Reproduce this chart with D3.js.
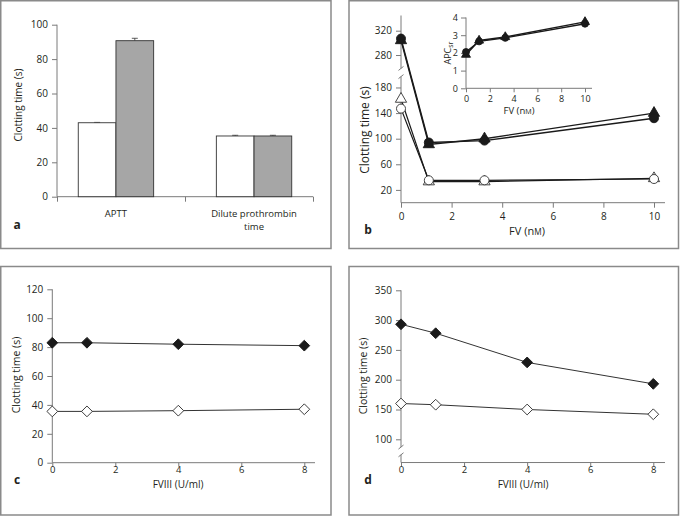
<!DOCTYPE html>
<html>
<head>
<meta charset="utf-8">
<script src="https://cdn.jsdelivr.net/npm/d3@7"></script>
<style>
    body { margin: 0; background: #fff; }
    text { font-family: "Open Sans", sans-serif; fill: #231f20; }
</style>
</head>
<body>
<svg id="figure" width="680" height="516"></svg>
<script>
// ---- panel a: bar chart ----
const barCategories = ['APTT', 'Dilute prothrombin time'];
const barSeries = ['open', 'filled'];
const barOpen = [43, 35.3];
const barFilled = [90.7, 35.3];
const barOpenErr = [0.2, 0.4];
const barFilledErr = [1.4, 0.4];
const barTicks = [0, 20, 40, 60, 80, 100];

// ---- panel b: FV titration (main + inset) ----
const fvX = [0, 1.1, 3.3, 10];
const fvFilledCircle = [307, 94, 97, 132];
const fvFilledTriangle = [304, 91, 100, 140];
const fvOpenCircle = [147, 35, 35, 37];
const fvOpenTriangle = [162, 33, 33, 38];
const fvYTicks = [20, 60, 100, 140, 180, 280, 320];
const fvXTicks = [0, 2, 4, 6, 8, 10];

const insetCircle = [2.05, 2.65, 2.85, 3.65];
const insetTriangle = [1.9, 2.7, 2.9, 3.75];
const insetYTicks = [0, 1, 2, 3, 4];
const insetXTicks = [0, 2, 4, 6, 8, 10];

// ---- panels c and d: FVIII titration ----
const fviiiX = [0, 1.1, 4, 8];
const cFilled = [83, 83, 82, 81];
const cOpen = [35.5, 35.5, 36, 37];
const cYTicks = [0, 20, 40, 60, 80, 100, 120];
const dFilled = [293, 278, 229, 193];
const dOpen = [160, 158, 150, 142];
const dYTicks = [100, 150, 200, 250, 300, 350];
const fviiiXTicks = [0, 2, 4, 6, 8];

const AXIS = '#7a7a7a';
const FRAME = '#8a8a8a';
const svg = d3.select('#figure');

/**
 * panel border
 */
function frame(x0, y0, x1, y1) {
    svg.append('rect')
        .attr('x', x0).attr('y', y0)
        .attr('width', x1 - x0).attr('height', y1 - y0)
        .attr('fill', 'none')
        .attr('stroke', FRAME)
        .attr('stroke-width', 1.5);
}

/**
 * left axis with ticks only; the axis line is drawn by hand so it can have a break
 */
function leftAxis(scale, ticks, x, segments, fontSize = 10, pad = 4) {
    const g = svg.append('g')
        .attr('transform', `translate(${x},0)`)
        .call(d3.axisLeft(scale).tickValues(ticks).tickSize(5).tickPadding(pad)
            .tickFormat(d3.format('d')));
    g.select('.domain').remove();
    g.selectAll('line').attr('stroke', AXIS);
    g.selectAll('text')
        .attr('font-family', '"Open Sans", sans-serif')
        .attr('font-size', fontSize)
        .attr('fill', '#231f20');
    segments.forEach(([a, b]) => {
        svg.append('line')
            .attr('x1', x).attr('x2', x)
            .attr('y1', a).attr('y2', b)
            .attr('stroke', AXIS);
    });
    return g;
}

/**
 * bottom axis, line from x0 to x1
 */
function bottomAxis(scale, ticks, y, x0, x1, opts = {}) {
    const size = opts.size || 10;
    const g = svg.append('g')
        .attr('transform', `translate(0,${y})`)
        .call(d3.axisBottom(scale).tickValues(ticks)
            .tickSize(opts.tick || 5)
            .tickPadding(opts.pad !== undefined ? opts.pad : 3)
            .tickFormat(opts.noLabels ? () => '' : d3.format('d')));
    g.select('.domain').remove();
    g.selectAll('line').attr('stroke', AXIS);
    g.selectAll('text')
        .attr('font-family', '"Open Sans", sans-serif')
        .attr('font-size', size)
        .attr('fill', '#231f20');
    svg.append('line')
        .attr('x1', x0).attr('x2', x1)
        .attr('y1', y).attr('y2', y)
        .attr('stroke', AXIS);
    return g;
}

/**
 * small slanted marks at the ends of an axis break
 */
function breakMarks(x, ys) {
    ys.forEach(y => {
        svg.append('line')
            .attr('x1', x - 2.5).attr('y1', y + 2)
            .attr('x2', x + 2.5).attr('y2', y - 2)
            .attr('stroke', AXIS);
    });
}

function label(text, x, y, size, opts = {}) {
    const t = svg.append('text')
        .attr('x', x).attr('y', y)
        .attr('font-size', size)
        .attr('text-anchor', opts.anchor || 'middle')
        .text(text);
    if (opts.bold) t.attr('font-weight', 'bold');
    if (opts.rotate) t.attr('transform', `rotate(-90,${x},${y})`);
    return t;
}

function yTitle(x, y, size) {
    return label('Clotting time (s)', x, y, size, { rotate: true });
}

/**
 * FV (nM) title with small-cap M
 */
function fvTitle(x, y, size) {
    const t = svg.append('text')
        .attr('x', x).attr('y', y)
        .attr('font-size', size)
        .attr('text-anchor', 'middle');
    t.append('tspan').text('FV (n');
    t.append('tspan').attr('font-size', size * 0.75).text('M');
    t.append('tspan').text(')');
}

/**
 * one line series, returns the point positions for the markers
 */
function series(xs, ys, xScale, yScale, opts) {
    const pts = xs.map((x, i) => [xScale(x), yScale(ys[i])]);
    svg.append('path')
        .attr('d', d3.line()(pts))
        .attr('fill', 'none')
        .attr('stroke', opts.line || '#1a1a1a')
        .attr('stroke-width', opts.width || 1.3);
    return pts;
}

function markers(pts, type, size, filled, rotate = 0) {
    const sym = d3.symbol().type(type).size(size);
    svg.append('g').selectAll('path')
        .data(pts)
        .enter()
        .append('path')
        .attr('d', sym)
        .attr('transform', d => `translate(${d[0]},${d[1]}) rotate(${rotate})`)
        .attr('fill', filled ? '#1a1a1a' : '#fff')
        .attr('stroke', filled ? '#1a1a1a' : '#333')
        .attr('stroke-width', 0.9);
}

// ================= panel a =================
frame(0.75, 0.75, 331, 248.5);
{
    const y = d3.scaleLinear().domain([0, 100]).range([196.7, 24.7]);
    const x = d3.scaleBand().domain(barCategories).range([57, 313])
        .paddingInner(0.454).paddingOuter(0.154);
    const xs = d3.scaleBand().domain(barSeries).range([0, x.bandwidth()]);

    leftAxis(y, barTicks, 57, [[y(100), y(0)]]);
    const centers = barCategories.map(c => x(c) + x.bandwidth() / 2);
    const boundary = d3.scaleLinear().domain([0, 1, 2])
        .range([57, (centers[0] + centers[1]) / 2, 313]);
    bottomAxis(boundary, [0, 1, 2], y(0), 57, 313, { noLabels: true });

    const rows = barCategories.map((c, i) => ({
        cat: c,
        vals: [
            { key: 'open', v: barOpen[i], e: barOpenErr[i], fill: '#fff' },
            { key: 'filled', v: barFilled[i], e: barFilledErr[i], fill: '#a6a6a6' }
        ]
    }));

    rows.forEach(r => {
        r.vals.forEach(b => {
            const bx = x(r.cat) + xs(b.key);
            const cx = bx + xs.bandwidth() / 2;
            svg.append('line')
                .attr('x1', cx).attr('x2', cx)
                .attr('y1', y(b.v)).attr('y2', y(b.v + b.e))
                .attr('stroke', '#333').attr('stroke-width', 0.8);
            svg.append('line')
                .attr('x1', cx - 3).attr('x2', cx + 3)
                .attr('y1', y(b.v + b.e)).attr('y2', y(b.v + b.e))
                .attr('stroke', '#333').attr('stroke-width', 0.8);
            svg.append('rect')
                .attr('x', bx).attr('y', y(b.v))
                .attr('width', xs.bandwidth())
                .attr('height', y(0) - y(b.v))
                .attr('fill', b.fill)
                .attr('stroke', '#333')
                .attr('stroke-width', 0.9);
        });
    });

    label('APTT', centers[0], 216.5, 9.5);
    label('Dilute prothrombin', centers[1], 216.5, 9.5);
    label('time', centers[1], 229.5, 9.5);
    yTitle(22, 105, 10);
    label('a', 17, 229, 12, { bold: true });
}

// ================= panel b =================
frame(349, 0.75, 678.5, 248.5);
{
    const x = d3.scaleLinear().domain([0, 10]).range([401, 654]);
    // broken axis: lower part 0-197, upper part 258-345
    const y = d3.scaleLinear()
        .domain([0, 197, 258, 345])
        .range([202.7, 76.6, 68.4, 15.5]);

    leftAxis(y, fvYTicks, 401, [[y(345), y(258)], [y(197), y(0)]]);
    breakMarks(401, [y(258), y(197)]);
    bottomAxis(x, fvXTicks, y(0), 401, 665, { pad: 5 });

    series(fvX, fvOpenTriangle, x, y, { width: 1.2 });
    series(fvX, fvOpenCircle, x, y, { width: 1.2 });
    const tri = series(fvX, fvFilledTriangle, x, y, { width: 1.4 });
    const cir = series(fvX, fvFilledCircle, x, y, { width: 1.4 });
    markers(fvX.map((v, i) => [x(v), y(fvOpenTriangle[i])]), d3.symbolTriangle, 55, false);
    markers(fvX.map((v, i) => [x(v), y(fvOpenCircle[i])]), d3.symbolCircle, 64, false);
    markers(tri, d3.symbolTriangle, 55, true);
    markers(cir, d3.symbolCircle, 64, true);

    yTitle(369, 130, 12);
    fvTitle(527, 235, 11);
    label('b', 368, 234, 12, { bold: true });

    // inset
    const xi = d3.scaleLinear().domain([0, 10]).range([466, 585]);
    const yi = d3.scaleLinear().domain([0, 4]).range([88.3, 17.5]);
    leftAxis(yi, insetYTicks, 466, [[yi(4), yi(0)]], 9, 3);
    bottomAxis(xi, insetXTicks, yi(0), 466, 592, { size: 9, tick: 4, pad: 3 });
    const ti = series(fvX, insetTriangle, xi, yi, { width: 1.4 });
    const ci = series(fvX, insetCircle, xi, yi, { width: 1.4 });
    markers(ti, d3.symbolTriangle, 35, true);
    markers(ci, d3.symbolCircle, 38, true);

    const apc = svg.append('text')
        .attr('x', 451).attr('y', 53)
        .attr('font-size', 9)
        .attr('text-anchor', 'middle')
        .attr('transform', 'rotate(-90,451,53)');
    apc.append('tspan').text('APC');
    apc.append('tspan').attr('font-size', 7).attr('dy', 1.5).text('sr');
    fvTitle(519, 114, 9.5);
}

// ================= panel c =================
frame(0.75, 266.5, 331, 515);
{
    const x = d3.scaleLinear().domain([0, 8]).range([52.3, 304.3]);
    const y = d3.scaleLinear().domain([0, 120]).range([462.7, 289.3]);
    leftAxis(y, cYTicks, 52.3, [[y(120), y(0)]]);
    bottomAxis(x, fviiiXTicks, y(0), 52.3, 315, { tick: 4, pad: 0, size: 9.5 });

    const o = series(fviiiX, cOpen, x, y, { line: '#333', width: 1 });
    const f = series(fviiiX, cFilled, x, y, { line: '#333', width: 1 });
    markers(o, d3.symbolSquare, 58, false, 45);
    markers(f, d3.symbolSquare, 58, true, 45);

    yTitle(20, 375, 10.5);
    label('FVIII (U/ml)', 178, 488, 10);
    label('c', 17, 484, 12, { bold: true });
}

// ================= panel d =================
frame(349, 266.5, 678.5, 515);
{
    const x = d3.scaleLinear().domain([0, 8]).range([401, 653.3]);
    const y = d3.scaleLinear().domain([100, 350]).range([439.3, 290.3]);
    const base = 61;
    leftAxis(y, dYTicks, 401, [[y(350), y(87)], [y(74), y(base)]]);
    breakMarks(401, [y(87), y(74)]);
    bottomAxis(x, fviiiXTicks, y(base), 401, 665, { tick: 4, pad: 0, size: 9.5 });

    const o = series(fviiiX, dOpen, x, y, { line: '#333', width: 1 });
    const f = series(fviiiX, dFilled, x, y, { line: '#333', width: 1 });
    markers(o, d3.symbolSquare, 58, false, 45);
    markers(f, d3.symbolSquare, 58, true, 45);

    yTitle(367, 376, 10.5);
    label('FVIII (U/ml)', 523, 488, 10);
    label('d', 368, 484, 12, { bold: true });
}
</script>
</body>
</html>
